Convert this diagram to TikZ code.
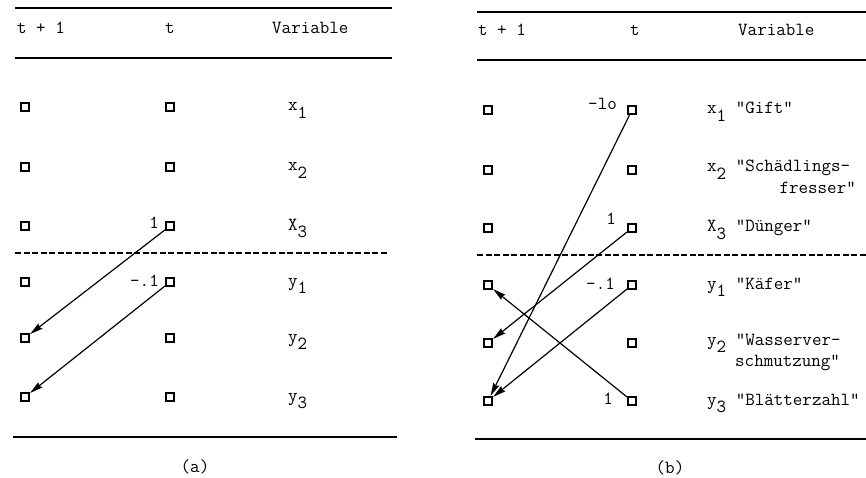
\documentclass[tikz,border=0pt]{standalone}
\usetikzlibrary{positioning,arrows.meta}
\newcommand{\idx}[1]{\raisebox{-.38em}{#1}}

\begin{document}
\begin{tikzpicture}[x=1pt,y=-1pt,
  >={Stealth[length=13pt,width=6.5pt,inset=1.5pt]},
  font=\ttfamily\fontsize{18.5}{21}\selectfont,
  box/.style={draw, line width=1.7pt, minimum size=8.5pt, inner sep=0pt},
  rule/.style={line width=1.4pt},
  cut/.style={line width=1.2pt, dash pattern=on 6pt off 2.5pt},
  arr/.style={->, line width=1.2pt},
  head/.style={anchor=base west, inner sep=0pt},
  var/.style={anchor=base west, inner sep=0pt},
  wgt/.style={anchor=base east, inner sep=0pt}
]
\useasboundingbox (0,0) rectangle (866,478);

% (a)
\draw[rule] (15,8) -- (392,8);
\node[head] (ah1) at (17,34) {t + 1};
\node[head] (ah2) at (165,34) {t};
\node[head] (ah3) at (272,34) {Variable};
\draw[rule] (15,58) -- (392,58);

\node[box] (aL1) at (25,107) {};
\node[box] (aL2) at (25,167) {};
\node[box] (aL3) at (25,226) {};
\node[box] (aL4) at (25,282) {};
\node[box] (aL5) at (25,338) {};
\node[box] (aL6) at (25,397) {};

\node[box] (aT1) at (170,107) {};
\node[box] (aT2) at (170,167) {};
\node[box] (aT3) at (170,226) {};
\node[box] (aT4) at (170,282) {};
\node[box] (aT5) at (170,338) {};
\node[box] (aT6) at (170,397) {};

\node[var] (av1) at (288,111) {x\idx{1}};
\node[var] (av2) at (288,171) {x\idx{2}};
\node[var] (av3) at (288,230) {X\idx{3}};
\node[var] (av4) at (288,286) {y\idx{1}};
\node[var] (av5) at (288,342) {y\idx{2}};
\node[var] (av6) at (288,401) {y\idx{3}};

\draw[cut] (15,253) -- (388,253);
\draw[rule] (13,437) -- (397,437);

\node[wgt] (aw3) at (159,228) {1};
\node[wgt] (aw4) at (159,286) {-.1};

\draw[arr] (aT3) -- (aL5);
\draw[arr] (aT4) -- (aL6);

\node (acap) at (195,467) {(a)};

% (b)
\draw[rule] (477,12) -- (866,12);
\node[head] (bh1) at (478,36) {t + 1};
\node[head] (bh2) at (630,36) {t};
\node[head] (bh3) at (738,36) {Variable};
\draw[rule] (477,60) -- (866,60);

\node[box] (bL1) at (488,110) {};
\node[box] (bL2) at (488,170) {};
\node[box] (bL3) at (488,228) {};
\node[box] (bL4) at (488,285) {};
\node[box] (bL5) at (488,343) {};
\node[box] (bL6) at (488,401) {};

\node[box] (bT1) at (632,110) {};
\node[box] (bT2) at (632,170) {};
\node[box] (bT3) at (632,228) {};
\node[box] (bT4) at (632,285) {};
\node[box] (bT5) at (632,343) {};
\node[box] (bT6) at (632,401) {};

\node[var] (bv1) at (707,114) {x\idx{1} "Gift"};
\node[var] (bv2) at (707,172) {x\idx{2} "Schädlings-};
\node[anchor=base east, inner sep=0pt] (bv2b) at (856,194) {fresser"};
\node[var] (bv3) at (707,232) {X\idx{3} "Dünger"};
\node[var] (bv4) at (707,289) {y\idx{1} "Käfer"};
\node[var] (bv5) at (707,345) {y\idx{2} "Wasserver-};
\node[var] (bv5b) at (735,366) {schmutzung"};
\node[var] (bv6) at (707,405) {y\idx{3} "Blätterzahl"};

\draw[cut] (477,255) -- (866,255);
\draw[rule] (475,439) -- (866,439);

\node[wgt] (bw1) at (617,110) {-lo};
\node[wgt] (bw3) at (616,224) {1};
\node[wgt] (bw4) at (615,289) {-.1};
\node[wgt] (bw6) at (613,404) {1};

\draw[arr] (bT1) -- (bL6);
\draw[arr] (bT3) -- (bL5);
\draw[arr] (bT4) -- (bL6);
\draw[arr] (bT6) -- (bL4);

\node (bcap) at (670,468) {(b)};

\end{tikzpicture}
\end{document}
